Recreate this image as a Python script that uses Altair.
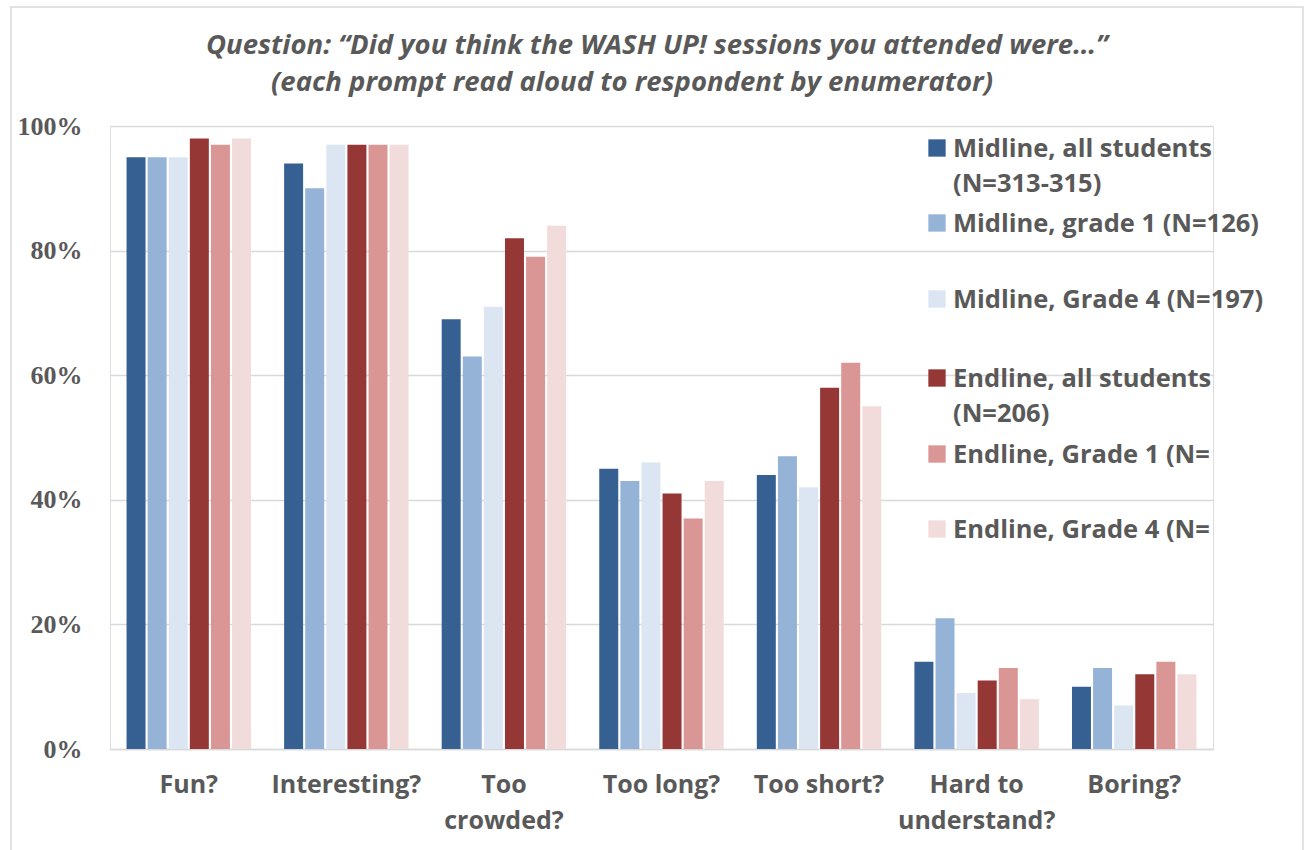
import altair as alt
import pandas as pd

# Survey prompts (x categories) and respondent groups (bar series)
questions = ["Fun?", "Interesting?", "Too crowded?", "Too long?",
             "Too short?", "Hard to understand?", "Boring?"]
series = ["Midline, all students", "Midline, grade 1", "Midline, Grade 4",
          "Endline, all students", "Endline, Grade 1", "Endline, Grade 4"]

# Percent answering "yes" to each prompt
midline_all = [95, 94, 69, 45, 44, 14, 10]
midline_g1 = [95, 90, 63, 43, 47, 21, 13]
midline_g4 = [95, 97, 71, 46, 42, 9, 7]
endline_all = [98, 97, 82, 41, 58, 11, 12]
endline_g1 = [97, 97, 79, 37, 62, 13, 14]
endline_g4 = [98, 97, 84, 43, 55, 8, 12]

# Legend entries as printed next to each swatch
legend_lines = [
    ["Midline, all students", "(N=313-315)"],
    ["Midline, grade 1 (N=126)"],
    ["Midline, Grade 4 (N=197)"],
    ["Endline, all students", "(N=206)"],
    ["Endline, Grade 1 (N="],
    ["Endline, Grade 4 (N="],
]

title_line1 = "Question: \u201cDid you think the WASH UP! sessions you attended were\u2026\u201d"
title_line2 = "(each prompt read aloud to respondent by enumerator)"

colors = ["#376092", "#95B3D7", "#DCE6F2", "#953735", "#D99694", "#F2DCDB"]
TEXT = "#595959"
GRID = "#D9D9D9"
SANS = "Open Sans"

values = [midline_all, midline_g1, midline_g4, endline_all, endline_g1, endline_g4]
rows = []
for s, vals in zip(series, values):
    for q, v in zip(questions, vals):
        rows.append({"question": q, "series": s, "value": v})
df = pd.DataFrame(rows)

W, H = 1103, 623

x_label_expr = (
    "datum.label == 'Too crowded?' ? ['Too', 'crowded?'] : "
    "datum.label == 'Hard to understand?' ? ['Hard to', 'understand?'] : datum.label"
)

bars = alt.Chart(df).mark_bar().encode(
    x=alt.X(
        "question:N",
        sort=questions,
        scale=alt.Scale(paddingInner=0.21, paddingOuter=0.105),
        axis=alt.Axis(
            title=None, labelAngle=0, ticks=False, grid=False,
            domainColor=GRID, domainWidth=1.5,
            labelFont=SANS, labelFontSize=25, labelFontWeight="bold",
            labelColor=TEXT, labelPadding=23, labelLineHeight=36,
            labelOverlap=False, labelExpr=x_label_expr,
        ),
    ),
    xOffset=alt.XOffset("series:N", sort=series, scale=alt.Scale(paddingInner=0.1)),
    y=alt.Y(
        "value:Q",
        scale=alt.Scale(domain=[0, 100], nice=False),
        axis=alt.Axis(
            title=None, values=[0, 20, 40, 60, 80, 100],
            labelExpr="datum.value + '%'",
            ticks=False, domain=False, grid=True,
            gridColor=GRID, gridWidth=1.5,
            labelFont="Liberation Serif", labelFontSize=26,
            labelFontWeight="bold", labelColor=TEXT, labelPadding=28,
        ),
    ),
    color=alt.Color("series:N", sort=series,
                    scale=alt.Scale(domain=series, range=colors), legend=None),
)

one = pd.DataFrame({"k": [0]})

# Outer chart frame
frame = alt.Chart(one).mark_rect(
    fillOpacity=0, stroke=GRID, strokeWidth=1.5
).encode(
    x=alt.value(-99), x2=alt.value(1193),
    y=alt.value(-119), y2=alt.value(740),
)

# Two-line italic heading
title_style = dict(align="center", baseline="alphabetic", font=SANS, fontSize=27.5,
                   fontStyle="italic", fontWeight="bold", color=TEXT)
title1 = alt.Chart(one).mark_text(text=title_line1, **title_style).encode(
    x=alt.value(547), y=alt.value(-72))
title2 = alt.Chart(one).mark_text(text=title_line2, **title_style).encode(
    x=alt.value(522), y=alt.value(-35))

# Hand-placed legend inside the plot area
legend_baselines = [31, 106, 182, 261, 337, 412]
legend_layers = []
for color, lines, base in zip(colors, legend_lines, legend_baselines):
    legend_layers.append(
        alt.Chart(one).mark_square(size=300, color=color, opacity=1).encode(
            x=alt.value(827), y=alt.value(base - 9)
        )
    )
    legend_layers.append(
        alt.Chart(one).mark_text(
            text=lines, align="left", baseline="alphabetic",
            font=SANS, fontSize=25.5, fontWeight="bold", color=TEXT, lineHeight=35,
        ).encode(x=alt.value(843), y=alt.value(base))
    )

chart = alt.layer(frame, title1, title2, bars, *legend_layers).properties(
    width=W,
    height=H,
    autosize=alt.AutoSizeParams(type="none"),
    padding={"left": 110, "top": 126, "right": 93, "bottom": 101},
).configure_view(stroke=None).configure(background="white")

chart.save("out.html", embed_options={"renderer": "svg", "actions": False})
